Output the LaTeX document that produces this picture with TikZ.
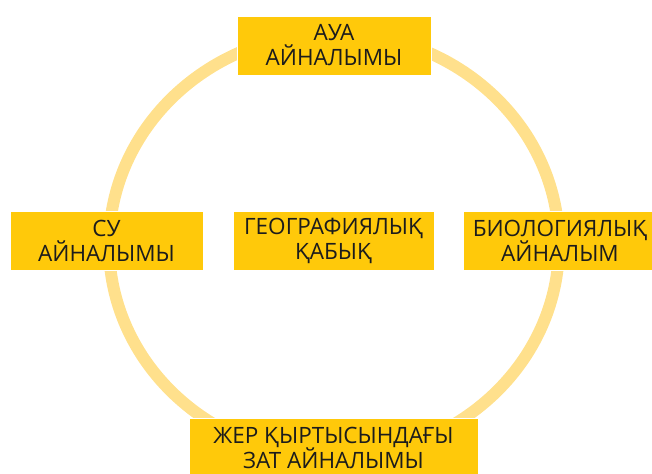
\documentclass[tikz,border=0pt]{standalone}
\usepackage{fontspec}
\setmainfont{Open Sans}
\definecolor{boxyellow}{HTML}{FFC90A}
\definecolor{ringyellow}{HTML}{FFE08C}
\definecolor{textgray}{HTML}{1C1C1C}

\begin{document}
\begin{tikzpicture}[x=1pt, y=-1pt,
    box/.style={rectangle, fill=boxyellow, draw=white, line width=0.6pt,
        minimum height=59pt, inner sep=0pt, align=center, text=textgray,
        font=\fontsize{22.5}{25}\selectfont}]
    \clip (0,0) rectangle (652,473);

    % the ring behind the boxes
    \draw[ringyellow, line width=12pt] (334,245) ellipse [x radius=225pt, y radius=212pt];

    \draw
    (334,45.5) node[box, minimum width=194pt](aua) {АУА\\АЙНАЛЫМЫ}
    (106.5,240.5) node[box, minimum width=193pt](su) {СУ\\АЙНАЛЫМЫ}
    (333.5,240.5) node[box, minimum width=201pt](geo) {ГЕОГРАФИЯЛЫҚ\\ҚАБЫҚ}
    (560,240.5) node[box, minimum width=194pt](bio) {БИОЛОГИЯЛЫҚ\\АЙНАЛЫМ}
    (333.5,447.5) node[box, minimum width=289pt](zher) {ЖЕР ҚЫРТЫСЫНДАҒЫ\\ЗАТ АЙНАЛЫМЫ};

\end{tikzpicture}
\end{document}
